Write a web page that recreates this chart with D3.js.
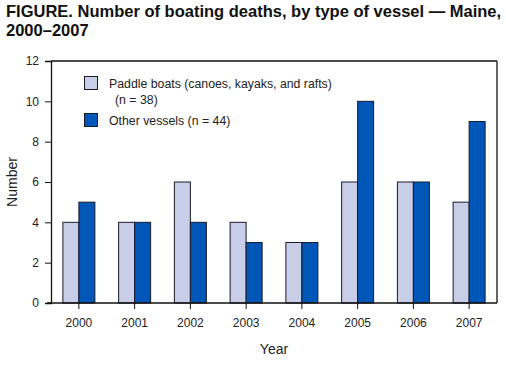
<!DOCTYPE html>
<html><head><meta charset="utf-8">
<script src="https://cdn.jsdelivr.net/npm/d3@7"></script>
<style>body{margin:0;background:#fff}svg{display:block}text{font-family:"Liberation Sans",Arial,sans-serif}</style>
</head><body>
<svg id="c" width="506" height="366"></svg>
<script>
const years = ["2000","2001","2002","2003","2004","2005","2006","2007"];
const paddle = [4,4,6,4,3,6,6,5];
const other = [5,4,4,3,3,10,6,9];
const yTicks = [0,2,4,6,8,10,12];
const seriesNames = ["Paddle boats (canoes, kayaks, and rafts)", "Other vessels (n = 44)"];
const colors = ["#c8cde8", "#0057b8"];

const svg = d3.select("#c");
const L=51, R=497, T=61, B=303;
const x = d3.scaleBand().domain(years).range([L,R]);
const y = d3.scaleLinear().domain([0,12]).range([B,T]);

svg.append("text").attr("x",6).attr("y",17).attr("font-size",16.5).attr("font-weight","bold").attr("fill","#111")
  .text("FIGURE. Number of boating deaths, by type of vessel \u2014 Maine,");
svg.append("text").attr("x",6).attr("y",36).attr("font-size",16.5).attr("font-weight","bold").attr("fill","#111")
  .text("2000\u20132007");

// frame
svg.append("line").attr("x1",L).attr("x2",R).attr("y1",T).attr("y2",T).attr("stroke","#111").attr("stroke-width",1.3);
svg.append("line").attr("x1",R).attr("x2",R).attr("y1",T).attr("y2",B).attr("stroke","#111").attr("stroke-width",1.3);

const bw = 16;
const g = svg.append("g");
years.forEach((yr,i)=>{
  const cx = x(yr)+x.bandwidth()/2;
  g.append("rect").attr("x",cx-bw).attr("y",y(paddle[i])).attr("width",bw).attr("height",B-y(paddle[i]))
    .attr("fill",colors[0]).attr("stroke","#1a1a2a").attr("stroke-width",1);
  g.append("rect").attr("x",cx).attr("y",y(other[i])).attr("width",bw).attr("height",B-y(other[i]))
    .attr("fill",colors[1]).attr("stroke","#1a1a2a").attr("stroke-width",1);
});

const ya = svg.append("g").attr("transform",`translate(${L},0)`)
  .call(d3.axisLeft(y).tickValues(yTicks).tickSize(6).tickPadding(6));
ya.select(".domain").attr("stroke","#111").attr("stroke-width",1.3);
ya.selectAll("line").attr("stroke","#111");
ya.selectAll("text").attr("font-size",12).attr("fill","#222").style("font-family","'Liberation Sans',Arial,sans-serif");

const xa = svg.append("g").attr("transform",`translate(0,${B})`)
  .call(d3.axisBottom(x).tickSize(6).tickPadding(9).tickSizeOuter(0));
xa.select(".domain").attr("d",`M${L-4},0H${R}`).attr("stroke","#111").attr("stroke-width",1.3);
xa.selectAll("line").attr("stroke","#111");
xa.selectAll("text").attr("font-size",12).attr("fill","#222").style("font-family","'Liberation Sans',Arial,sans-serif");

svg.append("text").attr("x",(L+R)/2).attr("y",354).attr("text-anchor","middle").attr("font-size",14).attr("fill","#222").text("Year");
svg.append("text").attr("transform",`translate(17,${(T+B)/2}) rotate(-90)`).attr("text-anchor","middle").attr("font-size",14).attr("fill","#222").text("Number");

// legend
const lg = svg.append("g");
lg.append("rect").attr("x",84.5).attr("y",76.5).attr("width",13).attr("height",13).attr("fill",colors[0]).attr("stroke","#1a1a2a");
lg.append("text").attr("x",109).attr("y",88).attr("font-size",12.3).attr("fill","#222").text(seriesNames[0]);
lg.append("text").attr("x",115).attr("y",104).attr("font-size",12.3).attr("fill","#222").text("(n = 38)");
lg.append("rect").attr("x",84.5).attr("y",113.5).attr("width",13).attr("height",13).attr("fill",colors[1]).attr("stroke","#1a1a2a");
lg.append("text").attr("x",109).attr("y",125).attr("font-size",12.3).attr("fill","#222").text(seriesNames[1]);
</script>
</body></html>
